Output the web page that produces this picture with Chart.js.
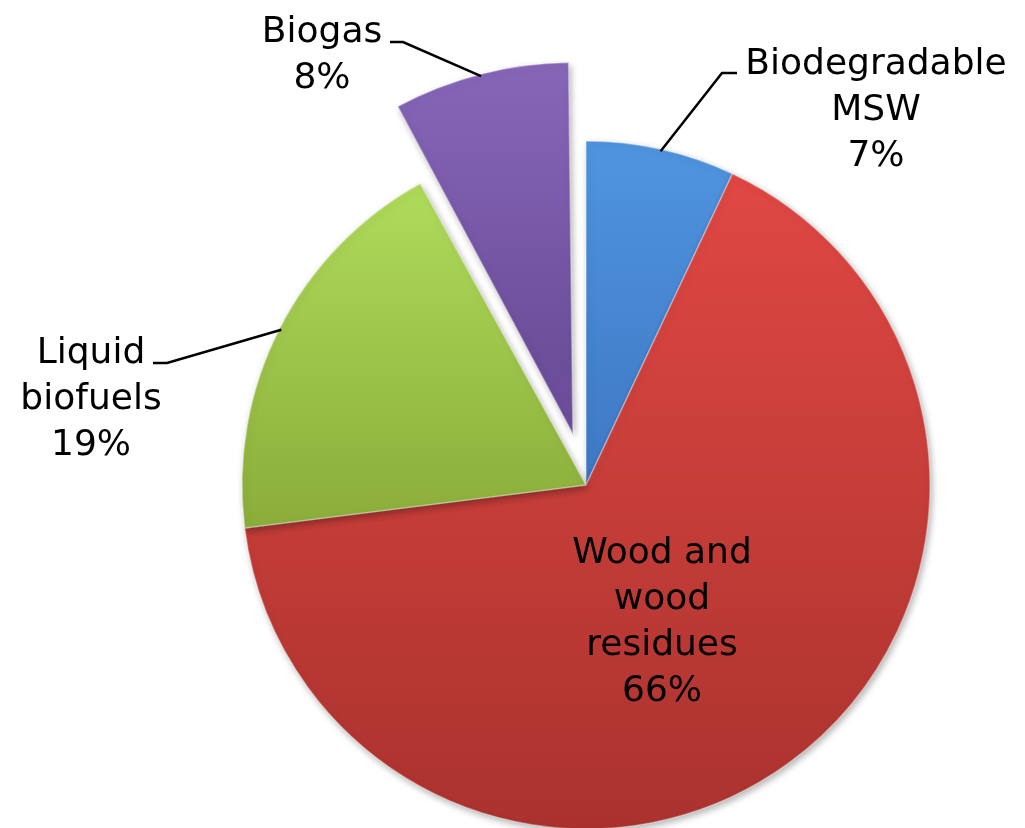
<!DOCTYPE html>
<html>
<head>
<meta charset="utf-8">
<script src="https://cdn.jsdelivr.net/npm/chart.js@4.4.0/dist/chart.umd.min.js"></script>
<style>
  html, body { margin: 0; padding: 0; background: #fff; }
</style>
</head>
<body>
<canvas id="chart" width="1025" height="828"></canvas>
<script>
// data
const categories = ["Biodegradable MSW", "Wood and wood residues", "Liquid biofuels", "Biogas"];
const shares = [7, 66, 19, 8];
const labelLines = [
  ["Biodegradable", "MSW", "7%"],
  ["Wood and", "wood", "residues", "66%"],
  ["Liquid", "biofuels", "19%"],
  ["Biogas", "8%"]
];
const explode = [0, 0, 0, 211]; // only Biogas is pulled out

// look
const topColors = ["#5094df", "#e04843", "#afdb5b", "#8c6abe"];
const bottomColors = ["#3e78c4", "#aa322e", "#8aad39", "#6c4e9a"];
const PIE_RADIUS = 344;
const FONT = "36px 'DejaVu Sans', Verdana, sans-serif";
const LINE_STEP = 46;

// label placement: text centre x, first baseline y
const labelAnchors = [[876, 74], [662, 563], [91, 363], [322, 42]];
// leader bend: elbow x, elbow y, end x (null = label sits inside the slice)
const leaderBends = [[722, 73, 737], null, [167, 363, 153], [403, 42, 390]];

function pushOut(i, circ) {
  // same push that Chart.js applies to an arc with an offset
  const off = explode[i] / 4;
  return off + off * (1 - Math.sin(Math.min(Math.PI, circ)));
}

function sliceFill(c) {
  const i = c.dataIndex;
  const area = c.chart.chartArea;
  if (!area) return topColors[i];
  const total = shares.reduce((a, b) => a + b, 0);
  let before = 0;
  for (let k = 0; k < i; k++) before += shares[k];
  const a0 = -Math.PI / 2 + 2 * Math.PI * before / total;
  const a1 = a0 + 2 * Math.PI * shares[i] / total;
  const mid = (a0 + a1) / 2;
  const cy = (area.top + area.bottom) / 2 + Math.sin(mid) * pushOut(i, a1 - a0);
  const ys = [cy, cy + Math.sin(a0) * PIE_RADIUS, cy + Math.sin(a1) * PIE_RADIUS];
  if (a0 <= -Math.PI / 2 + 1e-6 || a1 >= 1.5 * Math.PI - 1e-6) ys.push(cy - PIE_RADIUS);
  if (a0 < Math.PI / 2 && a1 > Math.PI / 2) ys.push(cy + PIE_RADIUS);
  const g = c.chart.ctx.createLinearGradient(0, Math.min(...ys), 0, Math.max(...ys));
  g.addColorStop(0, topColors[i]);
  g.addColorStop(1, bottomColors[i]);
  return g;
}

const shadowPlugin = {
  id: "shadow",
  beforeDatasetsDraw(chart) {
    const ctx = chart.ctx;
    ctx.save();
    ctx.shadowColor = "rgba(0,0,0,0.3)";
    ctx.shadowBlur = 7;
    ctx.shadowOffsetX = 2;
    ctx.shadowOffsetY = 3;
  },
  afterDatasetsDraw(chart) {
    chart.ctx.restore();
  }
};

const labelPlugin = {
  id: "pieLabels",
  afterDraw(chart) {
    const ctx = chart.ctx;
    const meta = chart.getDatasetMeta(0);
    ctx.save();
    ctx.font = FONT;
    ctx.fillStyle = "#000";
    ctx.textAlign = "center";
    ctx.textBaseline = "alphabetic";
    ctx.strokeStyle = "#000";
    ctx.lineWidth = 2.5;
    meta.data.forEach(function (arc, i) {
      const bend = leaderBends[i];
      if (bend) {
        const mid = (arc.startAngle + arc.endAngle) / 2;
        const reach = arc.outerRadius + pushOut(i, arc.endAngle - arc.startAngle) - 2;
        ctx.beginPath();
        ctx.moveTo(arc.x + Math.cos(mid) * reach, arc.y + Math.sin(mid) * reach);
        ctx.lineTo(bend[0], bend[1]);
        ctx.lineTo(bend[2], bend[1]);
        ctx.stroke();
      }
      const [tx, ty] = labelAnchors[i];
      labelLines[i].forEach(function (line, j) {
        ctx.fillText(line, tx, ty + j * LINE_STEP);
      });
    });
    ctx.restore();
  }
};

const ctx = document.getElementById("chart").getContext("2d");
const chart = new Chart(ctx, {
  type: "pie",
  data: {
    labels: categories,
    datasets: [
      {
        data: shares,
        backgroundColor: sliceFill,
        borderColor: "rgba(255,255,255,0.35)",
        borderWidth: 1.5,
        offset: explode,
        hoverOffset: 0,
        radius: PIE_RADIUS
      }
    ]
  },
  options: {
    responsive: false,
    animation: false,
    events: [],
    layout: { padding: { left: 147, top: 142, right: 0, bottom: 0 } },
    plugins: {
      legend: { display: false },
      tooltip: { enabled: false }
    }
  },
  plugins: [shadowPlugin, labelPlugin]
});
</script>
</body>
</html>
